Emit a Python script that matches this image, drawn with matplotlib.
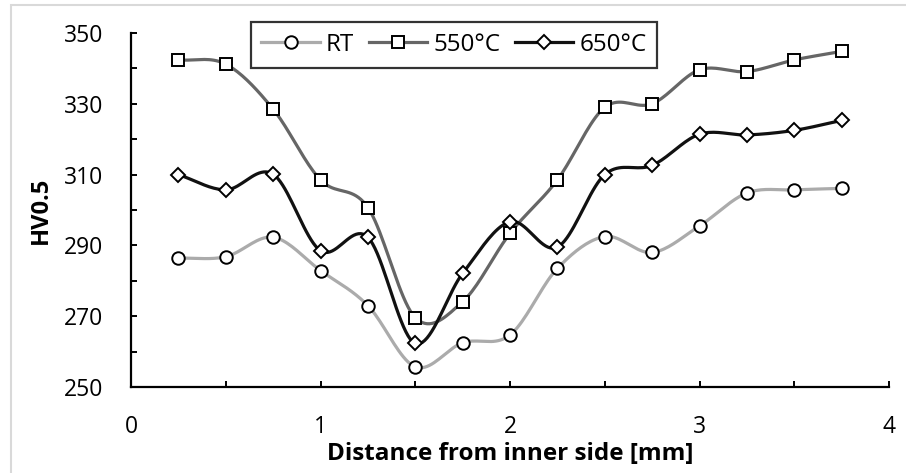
import numpy as np
import matplotlib.pyplot as plt
from matplotlib.patches import Rectangle

plt.rcParams['font.family'] = ['Open Sans', 'DejaVu Sans']

distance = [0.25, 0.5, 0.75, 1.0, 1.25, 1.5, 1.75, 2.0,
            2.25, 2.5, 2.75, 3.0, 3.25, 3.5, 3.75]

hv_rt = [286.4, 286.8, 292.3, 282.9, 273.0, 255.7, 262.5, 264.7,
         283.5, 292.5, 288.0, 295.5, 304.8, 305.7, 306.1]
hv_550 = [342.4, 341.2, 328.5, 308.5, 300.7, 269.6, 274.1, 293.4,
          308.5, 329.0, 330.0, 339.6, 339.1, 342.4, 344.8]
hv_650 = [310.0, 305.7, 310.1, 288.5, 292.3, 262.3, 282.1, 296.7,
          289.5, 310.0, 312.6, 321.4, 321.2, 322.5, 325.3]

labels = ['RT', '550°C', '650°C']
colors = ['#ababab', '#666666', '#111111']
markers = ['o', 's', 'D']
sizes = [9, 8.5, 7.5]


def smooth(x, y, n=20):
    # catmull-rom through the points, like excel's smoothed line
    x = np.asarray(x, float)
    y = np.asarray(y, float)
    px = np.concatenate([[2 * x[0] - x[1]], x, [2 * x[-1] - x[-2]]])
    py = np.concatenate([[2 * y[0] - y[1]], y, [2 * y[-1] - y[-2]]])
    xs, ys = [], []
    t = np.linspace(0, 1, n, endpoint=False)
    for i in range(1, len(px) - 2):
        for p, out in ((px, xs), (py, ys)):
            p0, p1, p2, p3 = p[i - 1], p[i], p[i + 1], p[i + 2]
            c1 = p1 + (p2 - p0) / 6
            c2 = p2 - (p3 - p1) / 6
            out.extend((1 - t) ** 3 * p1 + 3 * (1 - t) ** 2 * t * c1
                       + 3 * (1 - t) * t ** 2 * c2 + t ** 3 * p2)
    xs.append(x[-1])
    ys.append(y[-1])
    return np.array(xs), np.array(ys)


fig = plt.figure(figsize=(9.06, 4.73), dpi=100)
ax = fig.add_axes([131 / 906, 1 - 387 / 473, 758 / 906, 354 / 473])

handles = []
for y, lab, col, mk, ms in zip([hv_rt, hv_550, hv_650], labels, colors,
                               markers, sizes):
    sx, sy = smooth(distance, y)
    ax.plot(sx, sy, color=col, lw=2.3, zorder=2)
    ax.plot(distance, y, linestyle='none', marker=mk, ms=ms,
            mfc='white', mec='black', mew=1.4, zorder=3)
    h, = ax.plot([], [], color=col, lw=2.3, marker=mk, ms=ms,
                 mfc='white', mec='black', mew=1.4, label=lab)
    handles.append(h)

ax.set_xlim(0, 4)
ax.set_ylim(250, 350)
ax.set_xticks([0, 1, 2, 3, 4])
ax.set_xticks(np.arange(0, 4.01, 0.5), minor=True)
ax.set_yticks(np.arange(250, 351, 20))
ax.set_yticks(np.arange(250, 351, 10), minor=True)
for s in ['top', 'right']:
    ax.spines[s].set_visible(False)
for s in ['left', 'bottom']:
    ax.spines[s].set_linewidth(1.6)
    ax.spines[s].set_color('black')
ax.tick_params(axis='both', which='both', direction='in', width=1.4,
               length=4.5, labelsize=16.5, colors='black', pad=20)

ax.set_xlabel('Distance from inner side [mm]', fontsize=17.5,
              fontweight='bold', labelpad=2)
ax.set_ylabel('HV0.5', fontsize=17, fontweight='bold', labelpad=8)

leg = fig.legend(handles=handles, loc='center',
                 bbox_to_anchor=(454 / 906, 1 - 45 / 473),
                 ncol=3, fontsize=17.5, frameon=True, fancybox=False,
                 handlelength=2.4, handletextpad=0.25, columnspacing=0.6,
                 borderpad=0.45, borderaxespad=0)
leg.get_frame().set_edgecolor('black')
leg.get_frame().set_linewidth(1.6)

fig.patches.append(Rectangle((11 / 906, -0.05), 1.0, 1 - 5 / 473 + 0.05,
                             transform=fig.transFigure, fill=False,
                             edgecolor='#d9d9d9', lw=1.5))

fig.savefig('out.png', dpi=100)
